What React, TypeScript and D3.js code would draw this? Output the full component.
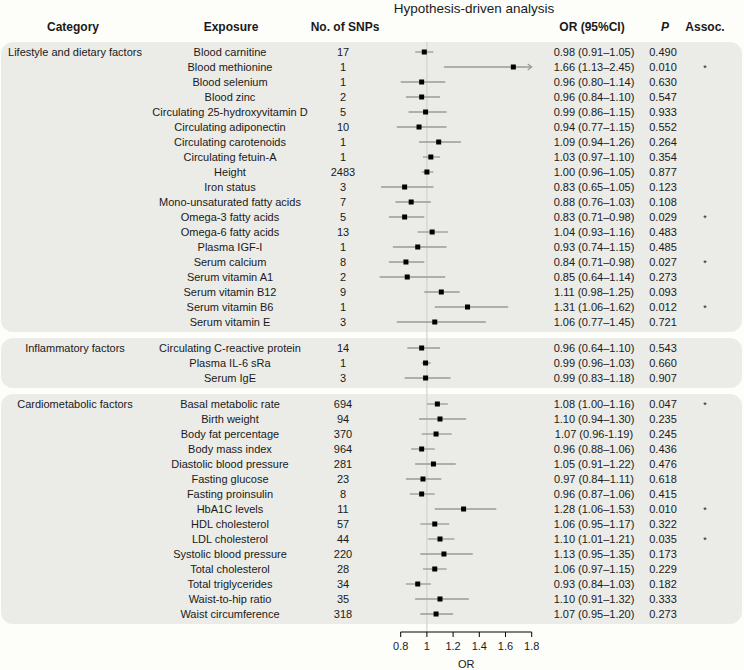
import React from "react";
import * as d3 from "d3";

// ---- data ----
const groupNames = ["Lifestyle and dietary factors", "Inflammatory factors", "Cardiometabolic factors"];
const groupSizes = [19, 3, 15];

const exposures = [
  "Blood carnitine", "Blood methionine", "Blood selenium", "Blood zinc",
  "Circulating 25-hydroxyvitamin D", "Circulating adiponectin", "Circulating carotenoids",
  "Circulating fetuin-A", "Height", "Iron status", "Mono-unsaturated fatty acids",
  "Omega-3 fatty acids", "Omega-6 fatty acids", "Plasma IGF-I", "Serum calcium",
  "Serum vitamin A1", "Serum vitamin B12", "Serum vitamin B6", "Serum vitamin E",
  "Circulating C-reactive protein", "Plasma IL-6 sRa", "Serum IgE",
  "Basal metabolic rate", "Birth weight", "Body fat percentage", "Body mass index",
  "Diastolic blood pressure", "Fasting glucose", "Fasting proinsulin", "HbA1C levels",
  "HDL cholesterol", "LDL cholesterol", "Systolic blood pressure", "Total cholesterol",
  "Total triglycerides", "Waist-to-hip ratio", "Waist circumference",
];
const snps = [
  "17", "1", "1", "2", "5", "10", "1", "1", "2483", "3", "7", "5", "13", "1", "8", "2", "9", "1", "3",
  "14", "1", "3",
  "694", "94", "370", "964", "281", "23", "8", "11", "57", "44", "220", "28", "34", "35", "318",
];
const orValues = [
  0.98, 1.66, 0.96, 0.96, 0.99, 0.94, 1.09, 1.03, 1.00, 0.83, 0.88, 0.83, 1.04, 0.93, 0.84, 0.85, 1.11, 1.31, 1.06,
  0.96, 0.99, 0.99,
  1.08, 1.10, 1.07, 0.96, 1.05, 0.97, 0.96, 1.28, 1.06, 1.10, 1.13, 1.06, 0.93, 1.10, 1.07,
];
const ciLow = [
  0.91, 1.13, 0.80, 0.84, 0.86, 0.77, 0.94, 0.97, 0.96, 0.65, 0.76, 0.71, 0.93, 0.74, 0.71, 0.64, 0.98, 1.06, 0.77,
  0.85, 0.96, 0.83,
  1.00, 0.94, 0.96, 0.88, 0.91, 0.84, 0.87, 1.06, 0.95, 1.01, 0.95, 0.97, 0.84, 0.91, 0.95,
];
const ciHigh = [
  1.05, 2.45, 1.14, 1.10, 1.15, 1.15, 1.26, 1.10, 1.05, 1.05, 1.03, 0.98, 1.16, 1.15, 0.98, 1.14, 1.25, 1.62, 1.45,
  1.10, 1.03, 1.18,
  1.16, 1.30, 1.19, 1.06, 1.22, 1.11, 1.06, 1.53, 1.17, 1.21, 1.35, 1.15, 1.03, 1.32, 1.20,
];
const orLabels = [
  "0.98 (0.91–1.05)", "1.66 (1.13–2.45)", "0.96 (0.80–1.14)", "0.96 (0.84–1.10)", "0.99 (0.86–1.15)",
  "0.94 (0.77–1.15)", "1.09 (0.94–1.26)", "1.03 (0.97–1.10)", "1.00 (0.96–1.05)", "0.83 (0.65–1.05)",
  "0.88 (0.76–1.03)", "0.83 (0.71–0.98)", "1.04 (0.93–1.16)", "0.93 (0.74–1.15)", "0.84 (0.71–0.98)",
  "0.85 (0.64–1.14)", "1.11 (0.98–1.25)", "1.31 (1.06–1.62)", "1.06 (0.77–1.45)",
  "0.96 (0.64–1.10)", "0.99 (0.96–1.03)", "0.99 (0.83–1.18)",
  "1.08 (1.00–1.16)", "1.10 (0.94–1.30)", "1.07 (0.96-1.19)", "0.96 (0.88–1.06)", "1.05 (0.91–1.22)",
  "0.97 (0.84–1.11)", "0.96 (0.87–1.06)", "1.28 (1.06–1.53)", "1.06 (0.95–1.17)", "1.10 (1.01–1.21)",
  "1.13 (0.95–1.35)", "1.06 (0.97–1.15)", "0.93 (0.84–1.03)", "1.10 (0.91–1.32)", "1.07 (0.95–1.20)",
];
const pValues = [
  "0.490", "0.010", "0.630", "0.547", "0.933", "0.552", "0.264", "0.354", "0.877", "0.123", "0.108", "0.029",
  "0.483", "0.485", "0.027", "0.273", "0.093", "0.012", "0.721",
  "0.543", "0.660", "0.907",
  "0.047", "0.235", "0.245", "0.436", "0.476", "0.618", "0.415", "0.010", "0.322", "0.035", "0.173", "0.229",
  "0.182", "0.333", "0.273",
];
const assoc = [
  "", "*", "", "", "", "", "", "", "", "", "", "*", "", "", "*", "", "", "*", "",
  "", "", "",
  "*", "", "", "", "", "", "", "*", "", "*", "", "", "", "", "",
];
const xTicks = [0.8, 1, 1.2, 1.4, 1.6, 1.8];
const xTickLabels = ["0.8", "1", "1.2", "1.4", "1.6", "1.8"];

// ---- layout ----
const W = 744;
const H = 670;
const FONT = "'Liberation Sans', Arial, Helvetica, sans-serif";
const ROW = 15;
const PAD = 10;
const GAP = 6;
const TOP = 42;
const COL_CAT = 75;
const COL_EXP = 230;
const COL_SNP = 343;
const COL_OR = 594;
const COL_P = 663;
const COL_AS = 705;
const AXIS_Y = 632;

const x = d3.scaleLinear().domain([0.8, 1.8]).range([400.7, 531.7]);

export default function App() {
  // compute panels and row y positions
  const panels: { top: number; bottom: number; name: string; firstY: number }[] = [];
  const rowY: number[] = [];
  let cursor = TOP;
  let idx = 0;
  groupSizes.forEach((n, g) => {
    const top = cursor;
    const yScale = d3.scaleLinear().domain([0, 1]).range([top + PAD, top + PAD + ROW]);
    for (let i = 0; i < n; i++) {
      rowY[idx + i] = yScale(i);
    }
    const bottom = top + PAD * 2 + ROW * (n - 1);
    panels.push({ top, bottom, name: groupNames[g], firstY: top + PAD });
    idx += n;
    cursor = bottom + GAP;
  });

  const textColor = "#1a1a1a";
  const xMax = x.domain()[1];

  return (
    <svg
      width={W}
      height={H}
      style={{ position: "absolute", left: 0, top: 0, background: "#fdfdfa" }}
      fontFamily={FONT}
    >
      {/* title */}
      <text x={474} y={13} textAnchor="middle" fontSize={13.5} fill={textColor}>
        Hypothesis-driven analysis
      </text>
      {/* headers */}
      <g fontSize={12} fontWeight="bold" fill={textColor}>
        <text x={COL_CAT - 2} y={31} textAnchor="middle">Category</text>
        <text x={COL_EXP + 1} y={31} textAnchor="middle">Exposure</text>
        <text x={COL_SNP + 2} y={31} textAnchor="middle">No. of SNPs</text>
        <text x={COL_OR - 2} y={31} textAnchor="middle">OR (95%CI)</text>
        <text x={COL_P + 2} y={31} textAnchor="middle" fontStyle="italic">P</text>
        <text x={COL_AS} y={31} textAnchor="middle">Assoc.</text>
      </g>
      {/* panels */}
      {panels.map((p, i) => (
        <rect key={i} x={1} y={p.top} width={741} height={p.bottom - p.top} rx={12} ry={12} fill="#ebebe7" />
      ))}
      {/* reference line */}
      <line x1={x(1)} x2={x(1)} y1={panels[0].top} y2={AXIS_Y} stroke="#d2d2ce" strokeWidth={1.2} />
      {/* group names */}
      <g fontSize={11} fill={textColor}>
        {panels.map((p, i) => (
          <text key={i} x={COL_CAT} y={p.firstY} textAnchor="middle" dominantBaseline="central">{p.name}</text>
        ))}
      </g>
      {/* rows */}
      <g fontSize={11} fill={textColor}>
        {exposures.map((e, i) => {
          const y = rowY[i];
          const hi = Math.min(ciHigh[i], xMax);
          const clipped = ciHigh[i] > xMax;
          return (
            <g key={i}>
              <text x={COL_EXP} y={y} textAnchor="middle" dominantBaseline="central">{e}</text>
              <text x={COL_SNP} y={y} textAnchor="middle" dominantBaseline="central">{snps[i]}</text>
              <line x1={x(ciLow[i])} x2={x(hi)} y1={y} y2={y} stroke="#9a9a97" strokeWidth={1.3} />
              {clipped && (
                <path
                  d={`M${x(hi) - 4},${y - 3}L${x(hi)},${y}L${x(hi) - 4},${y + 3}`}
                  fill="none"
                  stroke="#9a9a97"
                  strokeWidth={1.2}
                />
              )}
              <rect x={x(orValues[i]) - 2.5} y={y - 2.5} width={5} height={5} fill="#000" />
              <text x={COL_OR} y={y} textAnchor="middle" dominantBaseline="central">{orLabels[i]}</text>
              <text x={COL_P} y={y} textAnchor="middle" dominantBaseline="central">{pValues[i]}</text>
              {assoc[i] && (
                <text x={COL_AS} y={y + 1} textAnchor="middle" dominantBaseline="central" fontSize={9}>{assoc[i]}</text>
              )}
            </g>
          );
        })}
      </g>
      {/* axis */}
      <g stroke="#000" strokeWidth={1}>
        <line x1={x(0.8)} x2={x(1.8)} y1={AXIS_Y} y2={AXIS_Y} />
        {xTicks.map((t, i) => (
          <line key={i} x1={x(t)} x2={x(t)} y1={AXIS_Y} y2={AXIS_Y + 5} />
        ))}
      </g>
      <g fontSize={11} fill={textColor}>
        {xTicks.map((t, i) => (
          <text key={i} x={x(t)} y={AXIS_Y + 14} textAnchor="middle" dominantBaseline="central">{xTickLabels[i]}</text>
        ))}
        <text x={x(1.3)} y={AXIS_Y + 32} textAnchor="middle" dominantBaseline="central">OR</text>
      </g>
    </svg>
  );
}
